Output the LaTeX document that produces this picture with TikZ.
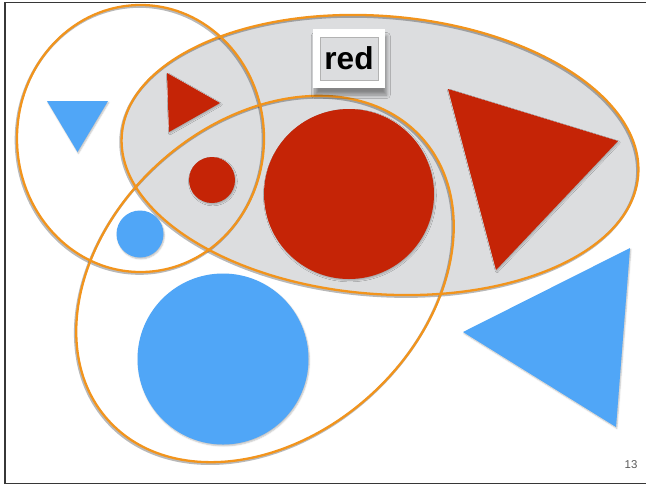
\documentclass[tikz,border=0pt]{standalone}
\usepackage{fontspec}
\setmainfont{Liberation Sans}
\usetikzlibrary{shadows, shadows.blur}
\definecolor{setred}{RGB}{197,36,6}
\definecolor{setblue}{RGB}{80,166,247}
\definecolor{setgray}{RGB}{220,221,223}
\definecolor{ringorange}{RGB}{242,148,28}
\definecolor{framegray}{RGB}{55,55,55}

\begin{document}
\begin{tikzpicture}[x=0.02cm, y=-0.02cm,
  ring/.style={draw=ringorange, line width=1.3pt},
  ringshade/.style={draw=black, opacity=0.28, line width=1.5pt},
  partshadow/.style={blur shadow={shadow xshift=0.5pt, shadow yshift=-0.8pt, shadow opacity=25, shadow blur radius=0.8pt}},
  redpart/.style={fill=setred, partshadow},
  bluepart/.style={fill=setblue, partshadow},
  every node/.style={inner sep=0pt}]
  \useasboundingbox (0,0) rectangle (646,485);
  \draw[framegray, line width=0.8pt] (646,2.5) -- (5,2.5) -- (5,483.5) -- (646,483.5);

  % the set of red things
  \fill[setgray] (380,155) ellipse [x radius=259, y radius=139, rotate=-4.5];

  % red parts
  \fill[redpart] (167,73) -- (220,103) -- (169,132) -- cycle;
  \fill[redpart] (448,89) -- (618,141) -- (496,270) -- cycle;
  \fill[redpart] (212,180) circle [radius=23];
  \fill[redpart] (349,194) circle [radius=85];

  % blue parts
  \fill[bluepart] (47,101) -- (108,101) -- (77.5,152) -- cycle;
  \fill[bluepart] (630,248) -- (463,332) -- (616,427) -- cycle;
  \fill[bluepart] (140,234) circle [radius=23.5];
  \fill[bluepart] (223,359) circle [radius=85.5];

  % outlines of the three sets
  \begin{scope}[shift={(-1,1.5)}]
    \draw[ringshade] (140.5,138.5) ellipse [x radius=123.5, y radius=133.5];
    \draw[ringshade] (380,155) ellipse [x radius=259, y radius=139, rotate=-4.5];
    \draw[ringshade] (265,279) ellipse [x radius=211, y radius=157, rotate=42];
  \end{scope}
  \draw[ring] (140.5,138.5) ellipse [x radius=123.5, y radius=133.5];
  \draw[ring] (380,155) ellipse [x radius=259, y radius=139, rotate=-4.5];
  \draw[ring] (265,279) ellipse [x radius=211, y radius=157, rotate=42];

  \node[fill=white, minimum width=1.44cm, minimum height=1.18cm,
    blur shadow={shadow xshift=1pt, shadow yshift=-4pt, shadow opacity=40, shadow blur radius=2pt, shadow blur steps=8}] (labelframe) at (349,58.5) {};
  \node[fill=setgray, draw=black!30, line width=0.4pt, minimum width=1.16cm, minimum height=0.86cm,
    font=\fontsize{18}{20}\selectfont\bfseries] (redlabel) at (labelframe.center) {red};

  \node[font=\fontsize{6.5}{8}\selectfont, text=black!65] (pageno) at (631,465) {13};
\end{tikzpicture}
\end{document}
